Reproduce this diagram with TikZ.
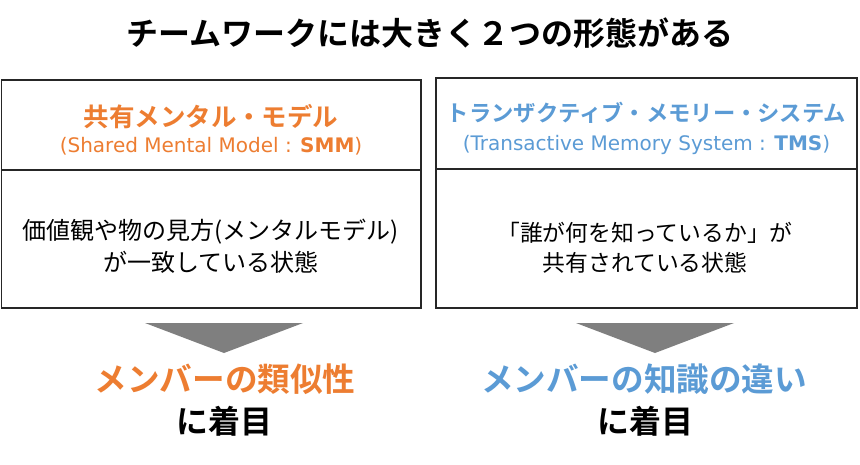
\documentclass[tikz,border=0pt]{standalone}
\usepackage{fontspec}
\newfontfamily\jp{Noto Sans CJK JP}[BoldFont={Noto Sans CJK JP Bold}]
\newfontfamily\lat{DejaVu Sans}
\definecolor{orn}{HTML}{ED7D31}
\definecolor{blu}{HTML}{5B9BD5}
\definecolor{tri}{HTML}{7F7F7F}
\definecolor{frame}{HTML}{262626}
\tikzset{
  txt/.style={inner sep=0pt, anchor=center, align=center},
  boxline/.style={draw=frame, line width=1.6pt},
  arrowtri/.style={fill=tri},
}
\begin{document}
\begin{tikzpicture}[x=1pt,y=-1pt]
\useasboundingbox[fill=white] (0,0) rectangle (860,464);
% title
\node[txt, font={\jp\bfseries\fontsize{32}{36}\selectfont}] (title) at (430,33) {チームワークには大きく２つの形態がある};
% left box
\draw[boxline] (1.5,80) rectangle (421,308);
\draw[boxline] (1.5,170) -- (421,170);
\node[txt, text=orn, font={\jp\bfseries\fontsize{25.5}{30}\selectfont}] (lhead) at (211,117) {共有メンタル・モデル};
\node[txt, text=orn, font={\lat\fontsize{20}{24}\selectfont}] (lsub) at (211,146) {(Shared Mental Model : \textbf{SMM})};
\node[txt, font={\jp\fontsize{24}{32}\selectfont}] (lbody) at (211,246) {価値観や物の見方(メンタルモデル)\\が一致している状態};
% right box
\draw[boxline] (436,78) rectangle (857,308);
\draw[boxline] (436,169) -- (857,169);
\node[txt, text=blu, font={\jp\bfseries\fontsize{22.3}{26}\selectfont}] (rhead) at (646.5,113) {トランザクティブ・メモリー・システム};
\node[txt, text=blu, font={\lat\fontsize{20}{24}\selectfont}] (rsub) at (646.5,145) {(Transactive Memory System : \textbf{TMS})};
\node[txt, font={\jp\fontsize{22.8}{30}\selectfont}] (rbody) at (645,248) {「誰が何を知っているか」が\\共有されている状態};
% triangles
\fill[arrowtri] (145,323) -- (303,323) -- (224,353) -- cycle;
\fill[arrowtri] (576,323) -- (734,323) -- (655,353) -- cycle;
% results
\node[txt, text=orn, font={\jp\bfseries\fontsize{32.6}{36}\selectfont}] (lres) at (225,379) {メンバーの類似性};
\node[txt, font={\jp\bfseries\fontsize{32}{36}\selectfont}] (lfoc) at (224,421) {に着目};
\node[txt, text=blu, font={\jp\bfseries\fontsize{32.6}{36}\selectfont}] (rres) at (644,379) {メンバーの知識の違い};
\node[txt, font={\jp\bfseries\fontsize{32}{36}\selectfont}] (rfoc) at (645,421) {に着目};
\end{tikzpicture}
\end{document}
